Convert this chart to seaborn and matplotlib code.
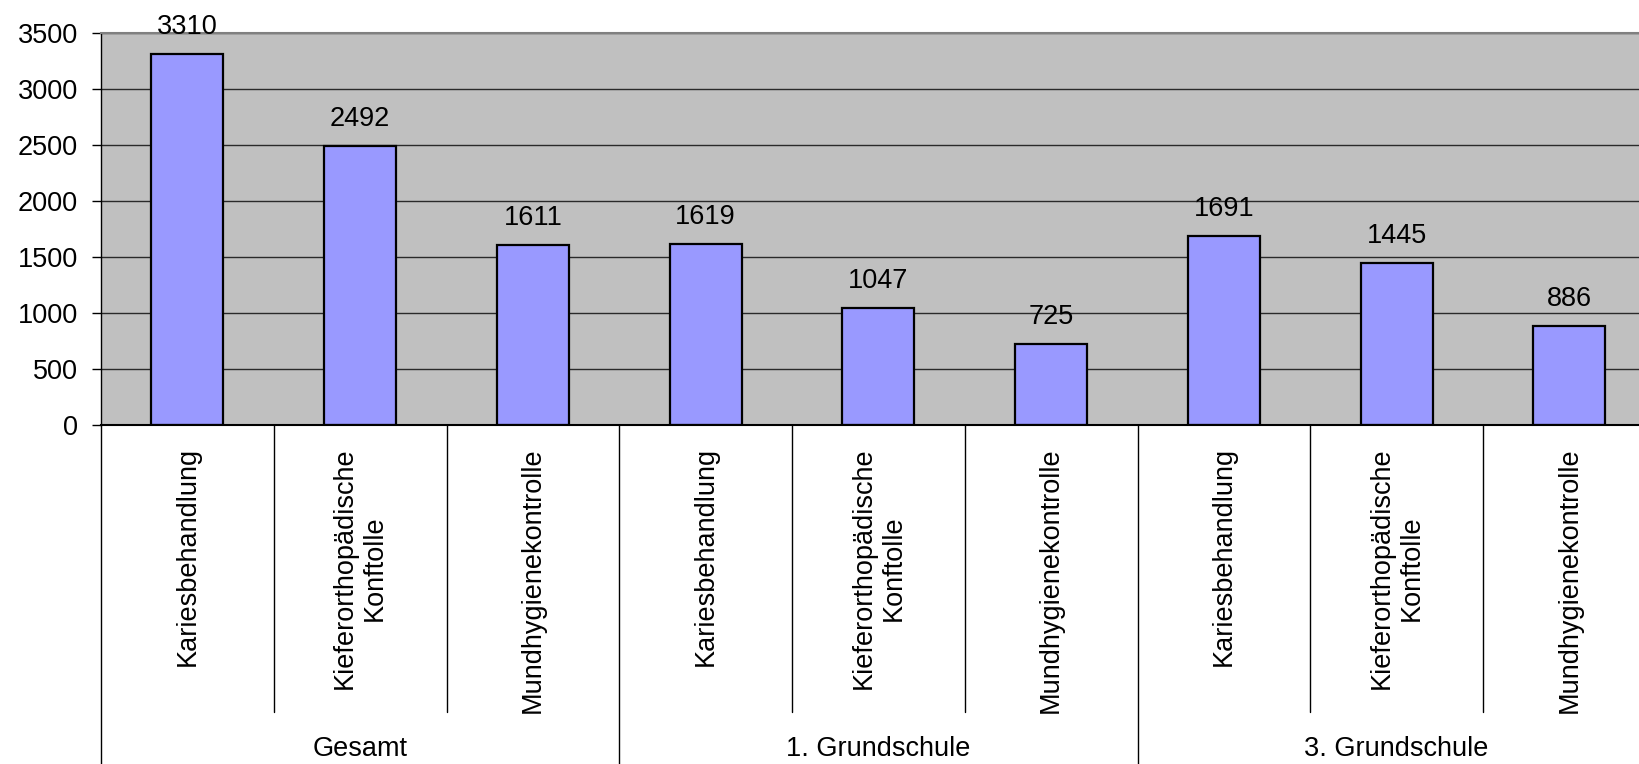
import matplotlib
matplotlib.use("Agg")
import matplotlib.pyplot as plt
import matplotlib.transforms as mtransforms
import seaborn as sns
import pandas as pd

# ---- data ----
groups = ["Gesamt", "1. Grundschule", "3. Grundschule"]
measures = ["Kariesbehandlung", "Kieferorthopädische\nKonftolle", "Mundhygienekontrolle"]
values_gesamt = [3310, 2492, 1611]
values_gs1 = [1619, 1047, 725]
values_gs3 = [1691, 1445, 886]
y_ticks = [0, 500, 1000, 1500, 2000, 2500, 3000, 3500]

all_values = [values_gesamt, values_gs1, values_gs3]
rows = []
for g, vals in zip(groups, all_values):
    for m, v in zip(measures, vals):
        rows.append({"slot": f"{g}|{m}", "group": g, "measure": m, "value": v})
df = pd.DataFrame(rows)

sns.set_theme(style="white")
plt.rcParams["font.family"] = ["Liberation Sans", "DejaVu Sans"]
FS = 19.5

fig = plt.figure(figsize=(16.39, 7.64), dpi=100)
ax = fig.add_axes([101 / 1639, 1 - 425 / 764, 1 - 101 / 1639, (425 - 33) / 764])
ax.set_facecolor("#C0C0C0")

sns.barplot(data=df, x="slot", y="value", color="#9999FF", saturation=1,
            edgecolor="black", linewidth=1.6, width=0.417, ax=ax, zorder=3)

ax.set_ylim(0, 3500)
ax.set_xlim(-0.5, -0.5 + 1538 / 172.75)
ax.set_yticks(y_ticks)
ax.set_yticklabels([str(t) for t in y_ticks], fontsize=FS, color="black")
ax.set_xticks(range(len(df)))
ax.set_xticklabels(df["measure"], rotation=90, fontsize=FS, color="black",
                   ha="center", va="top", multialignment="center")
ax.tick_params(axis="x", length=0, pad=16)
ax.tick_params(axis="y", length=6.5, width=1, color="black", pad=10, left=True, direction="out")
ax.set_xlabel("")
ax.set_ylabel("")

for y in y_ticks[1:]:
    ax.axhline(y, color="#2a2a2a", linewidth=1, zorder=1)

ax.spines["right"].set_visible(False)
ax.spines["top"].set_color("#808080")
ax.spines["top"].set_linewidth(1.5)
ax.spines["left"].set_color("black")
ax.spines["left"].set_linewidth(1)
ax.spines["bottom"].set_color("black")
ax.spines["bottom"].set_linewidth(1.5)
ax.spines["bottom"].set_zorder(4)

# data labels
for i, v in enumerate(df["value"]):
    ax.annotate(str(v), (i, v), xytext=(0, 14.4), textcoords="offset points",
                ha="center", va="baseline", fontsize=FS, color="black",
                annotation_clip=False)

# category separators below axis
trans = mtransforms.blended_transform_factory(ax.transData, ax.transAxes)
n_meas = len(measures)
inner_bottom = -(712 - 425) / 392
outer_bottom = -(764 - 425) / 392 - 0.01
for k in range(len(df) + 1):
    x = k - 0.5
    yb = outer_bottom if k % n_meas == 0 else inner_bottom
    ax.plot([x, x], [0, yb], transform=trans, color="black",
            linewidth=1, clip_on=False)

# group labels
group_y = -(749 - 425) / 392
for gi, g in enumerate(groups):
    xc = gi * n_meas + (n_meas - 1) / 2
    ax.text(xc, group_y, g, transform=trans, ha="center", va="center",
            fontsize=FS, color="black", clip_on=False)

fig.savefig("out.png", dpi=100, facecolor="white")
